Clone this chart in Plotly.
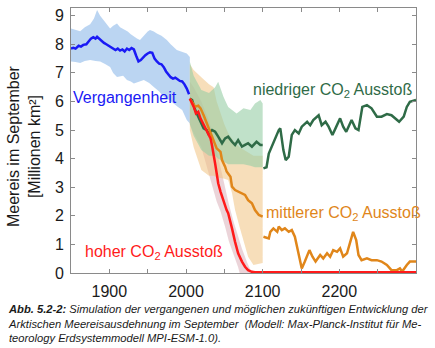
import plotly.graph_objects as go

# ---------------- data ----------------
past_years = [1850,1853,1856,1860,1863,1866,1870,1873,1876,1879,1882,1884,1887,1890,1893,1896,1899,1902,1905,1908,1911,1914,1917,1920,1923,1926,1929,1932,1935,1938,1941,1944,1947,1950,1953,1956,1959,1962,1965,1968,1971,1974,1977,1980,1983,1986,1989,1992,1995,1998,2001,2004]
past_vals = [7.85,7.88,7.85,7.95,7.92,7.98,8.0,8.1,8.2,8.25,8.2,8.26,8.18,8.1,8.05,8.0,7.95,7.9,7.85,7.8,7.85,7.78,7.82,7.75,7.85,7.8,7.87,7.82,7.6,7.4,7.45,7.55,7.62,7.68,7.72,7.7,7.5,7.4,7.32,7.3,7.2,7.05,6.95,6.85,6.8,6.83,6.78,6.72,6.7,6.6,6.45,6.25]

past_band_years = [1850,1856,1862,1868,1875,1880,1884,1888,1892,1896,1901,1905,1910,1914,1918,1924,1928,1932,1936,1940,1945,1950,1953,1958,1962,1968,1975,1980,1988,1995,2001,2005]
past_band_upper = [8.55,8.5,8.46,8.6,8.7,8.9,9.2,9.0,8.85,8.7,8.55,8.65,8.73,8.6,8.55,8.45,8.35,8.26,8.2,8.15,8.3,8.45,8.5,8.45,8.38,8.3,8.15,8.0,7.8,7.75,7.68,7.56]
past_band_lower_years = [1850,1856,1862,1868,1875,1882,1888,1895,1901,1905,1910,1918,1923,1928,1932,1938,1945,1952,1958,1965,1971,1978,1984,1990,1995,2001,2005]
past_band_lower = [7.4,7.38,7.35,7.42,7.45,7.42,7.4,7.3,7.21,7.0,6.86,6.9,6.75,6.7,6.63,6.7,6.75,6.65,6.51,6.35,6.16,6.05,5.93,5.8,5.7,5.35,5.23]

low_years_a = [2005,2008,2012,2016,2021,2023,2027,2029,2034,2038,2042,2047,2051,2055,2060,2064,2068,2073,2077,2081,2086,2092,2097,2100]
low_vals_a = [6.1,6.05,5.7,5.47,5.23,5.06,5.0,4.88,5.0,4.94,4.77,4.54,4.71,4.77,4.59,4.48,4.65,4.42,4.48,4.54,4.42,4.59,4.48,4.48]
low_years_b = [2101,2105,2108,2114,2121,2123,2127,2130,2134,2138,2142,2147,2151,2158,2162,2166,2173,2177,2182,2186,2191,2195,2201,2205,2209,2212,2216,2221,2225,2230,2236,2242,2249,2255,2262,2268,2273,2278,2284,2288,2292,2300]
low_vals_b = [3.66,3.7,4.18,4.59,5.0,5.06,4.3,3.95,4.07,4.83,5.0,4.88,5.12,5.29,5.17,5.35,5.52,5.17,5.29,5.12,4.83,5.06,5.41,5.12,4.94,5.12,5.35,5.06,5.0,5.81,5.87,5.76,5.47,5.47,5.56,5.52,5.41,5.29,5.47,5.81,5.99,6.05]

mid_years_a = [2005,2009,2012,2016,2019,2023,2027,2032,2036,2040,2045,2047,2051,2053,2058,2060,2064,2068,2073,2077,2081,2086,2090,2095,2100]
mid_vals_a = [6.1,5.95,5.82,5.85,5.76,5.52,5.23,4.88,4.59,4.36,4.24,3.95,3.72,3.55,3.37,3.02,2.9,2.84,2.79,2.73,2.55,2.44,2.2,2.03,1.97]
mid_years_b = [2101,2108,2110,2114,2119,2121,2125,2129,2134,2138,2142,2147,2151,2155,2161,2165,2169,2175,2179,2184,2188,2192,2197,2201,2205,2210,2214,2218,2222,2225,2229,2236,2242,2249,2255,2262,2268,2275,2279,2282,2288,2292,2297,2300]
mid_vals_b = [1.27,1.21,1.44,1.56,1.44,1.62,1.5,1.56,1.44,1.5,1.27,0.69,0.16,0.4,0.8,0.57,0.4,0.63,0.51,0.69,0.57,0.8,0.74,0.86,0.57,0.69,1.04,1.44,1.15,0.63,0.45,0.51,0.45,0.45,0.4,0.28,0.1,0.1,0.16,0.05,0.28,0.4,0.4,0.4]

high_years = [2005,2008,2010,2013,2016,2019,2021,2025,2029,2032,2034,2036,2038,2040,2042,2045,2047,2050,2053,2055,2058,2060,2064,2068,2073,2077,2081,2086,2090,2150,2200,2250,2300]
high_vals = [6.1,5.95,5.82,5.58,5.64,5.4,5.29,5.06,4.88,4.71,4.45,4.18,3.83,3.49,3.14,2.85,2.67,2.38,2.2,2.09,1.8,1.56,1.09,0.69,0.4,0.22,0.1,0.04,0.03,0.03,0.03,0.03,0.03]

low_band_years = [2005,2010,2020,2030,2038,2042,2049,2055,2066,2075,2084,2090,2097,2100]
low_band_upper = [7.4,6.9,6.4,6.3,6.5,6.69,6.16,5.81,5.58,5.76,5.7,5.93,6.05,5.93]
low_band_lower = [5.2,4.8,4.3,4.1,4.1,4.0,3.9,3.8,3.8,3.8,3.75,3.7,3.7,3.7]

mid_band_years = [2005,2010,2020,2030,2036,2040,2050,2055,2060,2064,2070,2073,2081,2088,2095,2100]
mid_band_upper = [7.3,7.1,6.85,6.6,6.5,6.0,5.2,4.9,4.7,4.55,4.4,4.35,4.2,4.1,4.1,4.1]
mid_band_lower = [5.0,4.4,3.6,3.4,3.4,3.35,3.3,3.25,2.8,2.2,1.6,1.27,0.57,0.28,0.32,0.35]

high_band_years = [2005,2010,2020,2025,2029,2035,2040,2045,2051,2056,2062,2068,2073,2080,2085,2090]
high_band_upper = [6.7,6.5,6.0,5.7,5.4,4.9,4.3,3.6,2.9,2.4,1.8,1.25,0.85,0.35,0.05,0.0]
high_band_lower = [5.2,4.9,4.4,4.0,3.6,3.0,2.5,2.16,1.62,1.1,0.69,0.2,-0.3,-0.3,-0.3,-0.3]

y_ticks = [0, 1, 2, 3, 4, 5, 6, 7, 8, 9]
x_ticks = [1900, 2000, 2100, 2200]
x_minor_step = 50

# ---------------- figure ----------------
W, H = 435, 348
L, R, T, B = 71, 19, 8, 75
PW, PH = W - L - R, H - T - B

def px(xp):
    return (xp - L) / PW

def py(yp):
    return (H - B - yp) / PH

FONT = "Arial, Liberation Sans, sans-serif"
fig = go.Figure()

def band(xs, up, xs_low, low, color):
    fig.add_trace(go.Scatter(x=list(xs) + list(xs_low)[::-1], y=list(up) + list(low)[::-1],
                             fill="toself", fillcolor=color, line=dict(width=0),
                             mode="lines", hoverinfo="skip", showlegend=False))

band(past_band_years, past_band_upper, past_band_lower_years, past_band_lower, "rgba(150,190,235,0.65)")
band(high_band_years, high_band_upper, high_band_years, high_band_lower, "rgba(215,170,180,0.5)")
band(mid_band_years, mid_band_upper, mid_band_years, mid_band_lower, "rgba(240,195,130,0.55)")
band(low_band_years, low_band_upper, low_band_years, low_band_lower, "rgba(150,205,165,0.6)")

def line(xs, ys, color):
    fig.add_trace(go.Scatter(x=xs, y=ys, mode="lines", line=dict(color=color, width=2.5),
                             hoverinfo="skip", showlegend=False))

BLUE, GREEN, ORANGE, RED = "#1a1af5", "#2f6b47", "#e0861a", "#ff1a1a"
line(past_years, past_vals, BLUE)
line(low_years_a, low_vals_a, GREEN)
line(low_years_b, low_vals_b, GREEN)
line(mid_years_a, mid_vals_a, ORANGE)
line(mid_years_b, mid_vals_b, ORANGE)
line(high_years, high_vals, RED)

axis_common = dict(showline=True, linecolor="#8a8a8a", linewidth=1, mirror="ticks",
                   ticks="inside", ticklen=4, tickcolor="#8a8a8a", showgrid=False,
                   zeroline=False, tickfont=dict(family=FONT, size=16, color="#1a1a1a"))

fig.update_layout(
    width=W, height=H, margin=dict(l=L, r=R, t=T, b=B),
    paper_bgcolor="white", plot_bgcolor="white",
    xaxis=dict(range=[1850, 2300], tickvals=x_ticks, ticklabelstandoff=4,
               minor=dict(dtick=x_minor_step, tick0=1850, ticks="inside", ticklen=4,
                          tickcolor="#8a8a8a", showgrid=False),
               **axis_common),
    yaxis=dict(range=[0, 9.27], tickvals=y_ticks, ticklabelstandoff=3, **axis_common),
    font=dict(family=FONT),
)

ann = []
ann.append(dict(x=px(24), y=py(146), xref="paper", yref="paper", textangle=-90,
                xanchor="center", yanchor="middle",
                text="Meereis im September<br>[Millionen km²]", showarrow=False,
                font=dict(size=16, color="#1a1a1a", family=FONT)))
ann.append(dict(x=px(125), y=py(97), xref="paper", yref="paper", xanchor="center", yanchor="middle",
                text="Vergangenheit", showarrow=False, font=dict(size=16, color=BLUE, family=FONT)))
ann.append(dict(x=px(251), y=py(90), xref="paper", yref="paper", xanchor="left", yanchor="middle",
                text="niedriger CO<sub>2</sub> Ausstoß", showarrow=False, font=dict(size=16, color=GREEN, family=FONT)))
ann.append(dict(x=px(264), y=py(213), xref="paper", yref="paper", xanchor="left", yanchor="middle",
                text="mittlerer CO<sub>2</sub> Ausstoß", showarrow=False, font=dict(size=16, color=ORANGE, family=FONT)))
ann.append(dict(x=px(83), y=py(252), xref="paper", yref="paper", xanchor="left", yanchor="middle",
                text="hoher CO<sub>2</sub> Ausstoß", showarrow=False, font=dict(size=16, color=RED, family=FONT)))
caption = ("<b><i>Abb. 5.2-2:</i></b><i> Simulation der vergangenen und möglichen zukünftigen Entwicklung der<br>"
           "Arktischen Meereisausdehnung im September  (Modell: Max-Planck-Institut für Me-<br>"
           "teorology Erdsystemmodell MPI-ESM-1.0).</i>")
ann.append(dict(x=px(6), y=py(301), xref="paper", yref="paper", xanchor="left", yanchor="top",
                align="left", text=caption, showarrow=False,
                font=dict(size=11.2, color="#1a1a1a", family=FONT)))
fig.update_layout(annotations=ann)

fig.write_html("out.html")
